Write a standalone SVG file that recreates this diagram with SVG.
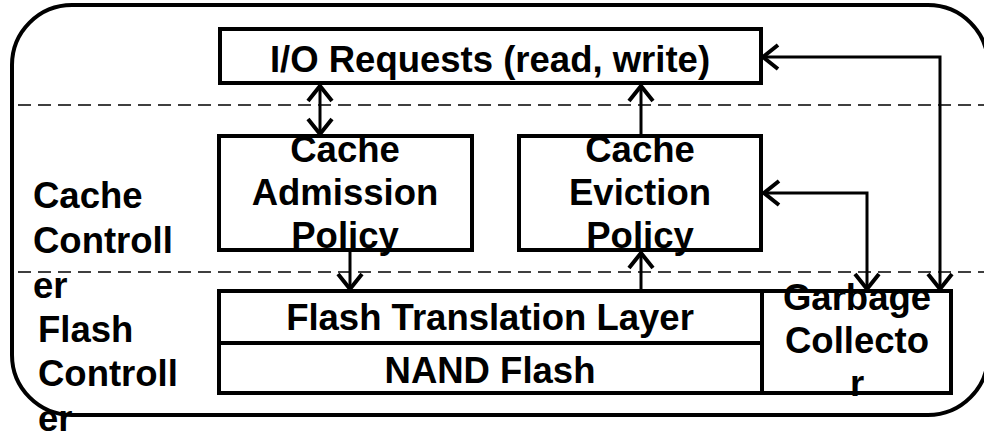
<svg xmlns="http://www.w3.org/2000/svg" width="984" height="434" viewBox="0 0 984 434">
  <defs>
    <marker id="arrow" markerUnits="userSpaceOnUse" markerWidth="40" markerHeight="40" refX="0" refY="0" viewBox="-20 -20 40 40" orient="auto-start-reverse" overflow="visible">
      <path d="M -15 -12 L 0 0 L -15 12" fill="none" stroke="#000" stroke-width="4"/>
    </marker>
    <style>
      .frame { fill: none; stroke: #000; stroke-width: 4; }
      .box { fill: #fff; stroke: #000; stroke-width: 4; }
      .sep { fill: none; stroke: #000; stroke-width: 1.5; stroke-dasharray: 13 7; }
      .conn { fill: none; stroke: #000; stroke-width: 3; }
      .lbl { font-family: "Liberation Sans", Arial, sans-serif; font-weight: bold; font-size: 36.5px; fill: #000; }
      .mid { text-anchor: middle; }
    </style>
  </defs>

  <rect width="984" height="434" fill="#fff"/>

  <!-- outer frame -->
  <rect class="frame" x="12" y="5" width="976" height="410" rx="60" ry="60"/>

  <!-- layer separators -->
  <line class="sep" x1="18" y1="105" x2="984" y2="105"/>
  <line class="sep" x1="18" y1="272" x2="984" y2="272"/>

  <!-- layer labels -->
  <g id="cache-controller-label">
    <text class="lbl" x="33" y="208">Cache</text>
    <text class="lbl" x="33" y="253">Controll</text>
    <text class="lbl" x="33" y="298">er</text>
  </g>
  <g id="flash-controller-label">
    <text class="lbl" x="38" y="342">Flash</text>
    <text class="lbl" x="38" y="386">Controll</text>
    <text class="lbl" x="38" y="431">er</text>
  </g>

  <g id="io-requests">
    <rect class="box" x="220" y="29" width="541" height="54"/>
    <text class="lbl mid" x="490" y="72">I/O Requests (read, write)</text>
  </g>

  <g id="cache-admission">
    <rect class="box" x="219" y="136" width="253" height="114"/>
    <text class="lbl mid" x="345" y="162">Cache</text>
    <text class="lbl mid" x="345" y="205">Admission</text>
    <text class="lbl mid" x="345" y="248">Policy</text>
  </g>

  <g id="cache-eviction">
    <rect class="box" x="519" y="136" width="242" height="114"/>
    <text class="lbl mid" x="640" y="162">Cache</text>
    <text class="lbl mid" x="640" y="205">Eviction</text>
    <text class="lbl mid" x="640" y="248">Policy</text>
  </g>

  <g id="ftl">
    <rect class="box" x="219" y="291" width="543" height="52"/>
    <text class="lbl mid" x="490" y="330">Flash Translation Layer</text>
  </g>

  <g id="nand-flash">
    <rect class="box" x="219" y="343" width="543" height="50"/>
    <text class="lbl mid" x="490" y="383">NAND Flash</text>
  </g>

  <g id="garbage-collector">
    <rect class="box" x="762" y="291" width="189" height="102"/>
    <text class="lbl mid" x="857" y="310">Garbage</text>
    <text class="lbl mid" x="857" y="353">Collecto</text>
    <text class="lbl mid" x="857" y="396">r</text>
  </g>

  <!-- connectors -->
  <g id="connectors">
    <line class="conn" x1="320" y1="134" x2="320" y2="86" marker-start="url(#arrow)" marker-end="url(#arrow)"/>
    <line class="conn" x1="641" y1="136" x2="641" y2="86" marker-end="url(#arrow)"/>
    <line class="conn" x1="350" y1="252" x2="350" y2="289" marker-end="url(#arrow)"/>
    <line class="conn" x1="641" y1="291" x2="641" y2="253" marker-end="url(#arrow)"/>
    <polyline class="conn" points="764,193 867,193 867,289" marker-start="url(#arrow)" marker-end="url(#arrow)"/>
    <polyline class="conn" points="763,57 940,57 940,289" marker-start="url(#arrow)" marker-end="url(#arrow)"/>
  </g>
</svg>
